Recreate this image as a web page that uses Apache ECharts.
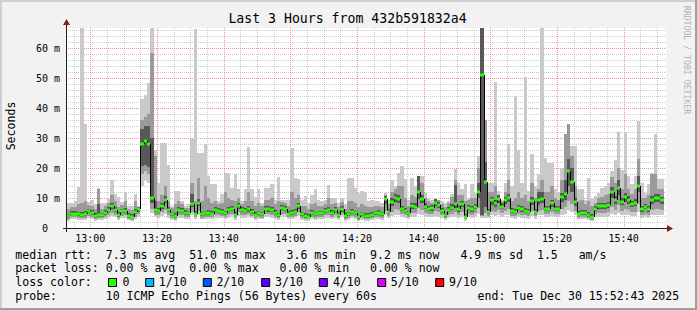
<!DOCTYPE html>
<html><head><meta charset="utf-8">
<script src="https://cdn.jsdelivr.net/npm/echarts@6/dist/echarts.min.js"></script>
<style>html,body{margin:0;padding:0;background:#f2f2f2;}#chart{width:697px;height:310px;}</style>
</head><body><div id="chart"></div>
<script>
// time unit: minutes after 12:00 ; window 12:52:43 -> 15:52:43
const START = 52 + 43/60;
const END = START + 180;
const YMAX = 200/3;           // ~66.7 ms top of plot
const FIRST_MINUTE = 53;      // first one-minute step (12:53)

// median rtt per minute (ms)
const med = [4.0,4.8,4.8,4.6,4.3,4.6,5.6,5.1,4.0,4.3,
4.2,5.0,6.1,7.2,6.1,4.4,5.6,5.7,4.1,3.7,
5.3,6.2,27.9,29.0,28.1,10.0,6.1,5.6,7.3,9.4,
5.9,4.6,4.0,6.0,5.7,5.1,4.9,8.0,4.8,8.4,
4.6,4.9,5.1,4.8,6.0,5.6,5.3,4.9,6.0,6.4,
4.4,7.3,5.9,5.7,6.2,5.4,4.4,4.9,4.6,6.4,
6.2,5.9,5.1,4.2,6.8,6.4,4.8,5.1,5.4,7.3,
4.6,4.0,3.8,5.1,4.6,4.9,4.9,5.7,6.0,5.1,
6.0,4.4,6.2,4.0,4.6,5.3,4.9,3.6,4.6,4.0,
4.0,4.3,4.9,5.1,4.6,9.6,5.3,8.7,10.1,9.8,
6.4,5.7,4.9,7.3,7.1,12.0,9.6,7.1,6.4,6.6,
8.4,7.7,5.7,4.2,5.9,6.8,7.9,6.2,7.9,3.8,
6.8,6.2,7.0,12.0,51.0,15.3,5.4,9.3,8.2,9.8,
7.1,9.3,10.1,5.6,5.3,6.8,6.2,5.7,5.3,9.0,
5.3,9.2,9.6,6.4,6.4,8.2,6.4,6.4,10.4,11.2,
18.9,15.3,8.7,4.8,5.1,5.1,4.3,3.7,6.4,7.3,
7.3,7.3,7.7,12.0,9.3,13.2,8.7,10.3,9.3,7.9,
8.4,14.0,6.2,7.0,6.2,9.3,10.0,10.0,9.2];

// smoke: lowest ping (ms)
const mn = [2.5,3.0,3.0,2.8,2.6,2.8,3.2,3.0,2.4,2.6,
2.6,3.0,3.4,4.0,3.6,2.8,3.2,3.3,2.6,2.3,
3.0,3.6,14.0,16.0,15.0,5.0,3.6,3.3,4.0,4.6,
3.4,2.8,2.5,3.4,3.3,3.0,3.0,4.2,3.0,4.4,
2.9,3.0,3.1,3.0,3.4,3.3,3.2,3.0,3.4,3.6,
2.8,4.0,3.4,3.3,3.6,3.2,2.8,3.0,2.9,3.6,
3.6,3.4,3.1,2.6,3.8,3.6,2.9,3.1,3.2,4.0,
2.8,2.5,2.4,3.1,2.8,3.0,3.0,3.3,3.4,3.1,
3.4,2.7,3.6,2.5,2.8,3.2,3.0,2.3,2.8,2.5,
2.5,2.6,3.0,3.1,2.8,4.2,3.2,4.0,4.4,4.2,
3.6,3.3,3.0,3.8,3.8,4.6,4.2,3.8,3.6,3.6,
4.0,3.8,3.3,2.6,3.4,3.6,3.8,3.4,3.8,2.4,
3.6,3.4,3.6,4.6,3.5,3.5,3.2,4.2,4.0,4.3,
3.8,4.2,4.4,3.2,3.1,3.6,3.4,3.3,3.1,4.0,
3.1,4.2,4.3,3.6,3.6,3.9,3.6,3.6,4.4,4.8,
6.0,5.5,4.4,2.9,3.0,3.0,2.6,2.3,3.6,3.8,
3.8,3.8,3.9,4.6,4.2,5.0,4.2,4.5,4.2,3.9,
4.0,5.2,3.4,3.6,3.4,4.2,4.4,4.4,4.2];

// smoke: second-lowest ping band edge (ms)
const lo = [3.0,3.6,3.6,3.4,3.2,3.4,4.0,3.7,3.0,3.2,
3.2,3.7,4.4,5.0,4.5,3.4,4.0,4.2,3.1,2.8,
3.8,4.6,18.0,19.0,18.0,6.5,4.4,4.2,5.2,6.0,
4.2,3.4,3.0,4.4,4.2,3.8,3.6,5.2,3.6,5.6,
3.5,3.7,3.8,3.6,4.4,4.2,4.0,3.7,4.4,4.6,
3.4,5.2,4.3,4.2,4.6,4.0,3.4,3.7,3.5,4.6,
4.6,4.3,3.8,3.2,4.8,4.6,3.6,3.8,4.0,5.2,
3.5,3.0,2.9,3.8,3.5,3.7,3.7,4.2,4.4,3.8,
4.4,3.3,4.6,3.0,3.5,4.0,3.7,2.8,3.5,3.0,
3.0,3.2,3.7,3.8,3.5,5.8,4.0,5.4,6.2,6.0,
4.6,4.2,3.7,5.0,5.0,6.8,6.0,5.0,4.6,4.7,
5.6,5.2,4.2,3.2,4.3,4.8,5.4,4.5,5.4,2.9,
4.8,4.4,5.0,6.8,4.0,5.0,4.0,5.8,5.4,6.0,
5.0,5.8,6.2,4.1,3.9,4.8,4.4,4.2,3.9,5.6,
3.9,5.7,6.0,4.6,4.6,5.4,4.6,4.6,6.4,7.0,
9.0,8.0,5.6,3.5,3.7,3.7,3.2,2.8,4.6,5.0,
5.0,5.0,5.2,7.0,6.0,7.6,5.6,6.4,6.0,5.2,
5.4,8.0,4.4,4.8,4.4,6.0,6.4,6.4,6.0];

// smoke: dark core lower edge (ms)
const c1 = [3.5,4.2,4.2,4.0,3.7,4.0,5.0,4.5,3.5,3.7,
3.6,4.4,5.4,6.4,5.4,3.8,5.0,5.0,3.5,3.2,
4.6,5.5,20.7,21.0,20.5,8.5,5.4,5.0,6.5,8.4,
5.2,4.0,3.5,5.3,5.0,4.5,4.3,7.0,4.2,7.4,
4.0,4.3,4.5,4.2,5.3,5.0,4.7,4.3,5.3,5.7,
3.9,6.4,5.2,5.0,5.5,4.8,3.9,4.3,4.0,5.7,
5.5,5.2,4.5,3.7,6.0,5.7,4.2,4.5,4.8,6.4,
4.0,3.5,3.3,4.5,4.0,4.3,4.3,5.0,5.3,4.5,
5.3,3.8,5.5,3.5,4.0,4.7,4.3,3.1,4.0,3.5,
3.5,3.8,4.3,4.5,4.0,8.0,4.7,7.4,8.6,8.4,
5.6,5.0,4.3,6.4,6.2,9.8,8.2,6.2,5.6,5.8,
7.2,6.7,5.0,3.7,5.2,6.0,6.8,5.5,6.9,3.3,
6.0,5.5,6.2,10.0,4.5,7.0,4.8,7.8,7.0,8.4,
6.2,7.9,8.6,4.9,4.7,6.0,5.5,5.0,4.7,7.6,
4.7,7.8,8.2,5.6,5.6,7.0,5.6,5.6,8.8,9.4,
14.0,12.0,7.4,4.2,4.5,4.5,3.8,3.2,5.6,6.4,
6.4,6.4,6.8,10.0,8.0,11.0,7.6,8.8,8.0,6.9,
7.3,12.0,5.5,6.2,5.5,8.0,8.6,8.6,8.0];

// smoke: dark core upper edge (ms)
const c2 = [4.8,5.6,5.6,5.4,5.2,5.6,6.5,6.0,4.9,8.0,
5.0,5.9,7.0,8.2,7.0,5.3,6.5,6.7,5.0,4.6,
6.2,7.1,33.0,34.0,34.0,30.0,9.0,6.6,8.4,10.6,
6.9,5.5,4.9,7.0,6.7,6.0,5.8,11.2,5.7,9.6,
5.5,5.8,6.0,5.7,7.0,6.6,6.2,5.8,7.0,7.4,
5.3,8.3,6.9,6.7,7.4,6.3,5.3,5.8,5.5,7.4,
7.2,6.9,6.0,5.1,7.8,7.4,5.7,6.0,6.3,8.4,
5.5,4.9,4.7,6.0,5.5,5.8,5.8,6.7,7.0,6.0,
7.0,5.3,7.2,4.9,5.5,6.3,5.8,4.4,5.5,4.9,
4.9,5.2,5.8,6.0,5.5,10.8,6.2,10.0,11.4,11.0,
7.4,6.7,5.8,8.4,8.2,17.3,11.0,8.2,7.4,7.6,
9.6,8.8,6.7,5.1,6.9,8.0,14.2,7.3,9.0,4.7,
7.8,7.2,8.0,15.0,67,22.0,6.4,10.5,9.4,11.0,
8.2,10.5,11.5,6.6,6.3,7.8,7.2,6.7,6.3,10.3,
6.3,12.0,12.0,7.4,7.4,9.4,7.4,7.4,11.8,16.0,
23.0,20.0,10.0,5.7,6.0,6.0,5.2,4.6,7.4,8.4,
8.4,8.4,8.8,13.6,10.6,16.0,9.9,11.8,10.6,9.0,
9.6,17.3,7.2,8.1,7.2,10.6,11.4,11.4,10.5];

// smoke: second-highest ping band edge (ms)
const hi = [6.4,7.0,7.0,8.0,8.5,9.0,7.8,7.5,6.5,13.0,
6.5,7.2,8.2,11.0,9.0,7.0,7.8,9.0,6.2,6.0,
9.0,7.0,36.0,37.0,38.0,58.4,24.0,9.0,11.0,14.0,
9.0,6.6,8.0,9.0,8.0,6.8,6.8,15.0,9.0,16.8,
9.0,14.0,10.0,8.5,9.0,8.0,8.5,12.0,10.0,9.5,
9.0,10.0,8.0,9.0,12.0,9.0,7.5,8.5,7.2,9.5,
9.5,10.0,8.0,9.0,8.8,8.5,7.5,12.0,10.0,11.0,
7.5,7.5,6.5,8.0,8.5,7.5,7.5,8.0,10.0,8.0,
8.5,7.0,8.8,6.5,9.0,9.0,8.5,7.0,8.0,7.5,
7.0,7.0,7.5,7.5,7.0,11.0,8.0,12.0,13.0,14.0,
14.0,10.0,7.5,11.0,10.5,17.3,15.0,10.0,9.0,8.5,
9.5,9.5,8.0,7.0,8.5,10.5,16.0,11.0,11.0,9.0,
9.5,10.0,10.0,20.0,67,36.0,12.0,12.0,14.0,11.0,
9.0,12.0,16.0,9.0,10.0,12.0,10.0,11.0,9.0,15.0,
10.0,13.0,16.0,12.0,12.0,14.0,10.0,9.5,16.0,31.2,
34.6,24.0,14.0,9.0,9.5,8.0,9.0,7.5,8.5,10.0,
10.5,11.0,11.5,17.0,15.0,20.0,13.0,18.0,13.0,11.5,
13.0,23.0,10.0,10.0,11.0,18.0,18.0,13.0,13.0];

// smoke: highest ping (ms)
const mx = [8.5,8.5,9.0,13.8,67,34.8,8.8,9.3,8.0,13.2,
8.2,8.2,9.6,16.0,11.5,10.2,8.8,12.0,7.5,7.5,
11.2,7.5,43.0,44.5,48.5,67,26,15,28.2,28.2,
20.9,7.5,12.3,12.3,9.0,7.5,8.0,29.6,66.5,25.1,
25,28,17.3,14.6,14.6,9.0,11.2,18.4,18.4,13.4,
17.9,12.9,9.0,12.9,27.1,12.9,10.4,12.9,8.5,13.4,
13.4,14.6,9.5,17.0,9.5,9.5,9.5,26.8,16.8,16.3,
9.5,10.7,8.5,10.9,13.1,9.5,9.0,9.5,14.2,10.0,
10.0,8.4,10.0,8.0,16.8,16.8,13.4,11.8,12.3,12.0,
9.0,9.5,9.0,9.0,8.5,11.8,9.5,16.0,14.0,18.4,
20.7,16.4,9.5,16.8,14.0,17.3,17.3,11.8,10.0,9.5,
10.0,9.5,9.0,8.5,9.0,11.2,19.8,15.0,12.9,14.6,
10.0,14.6,11.8,24.0,67,36,15,15,48.7,12.3,
9.5,15.0,27.9,14.0,44.0,26.0,15.0,50.4,12.3,24.6,
14.0,18.0,67,23.4,21.8,21.8,12.9,12.0,20.0,31.2,
34.6,27.3,27.3,12.9,12.9,9.5,16.8,10.1,10.7,11.8,
13.4,14.0,15.0,19.0,22.7,32.0,19.5,32.0,17.3,14.6,
17.3,35.7,15.0,11.8,14.6,18.4,31.2,16.3,16.3];

// time axis ticks (minutes after 12:00) and labels
const gridMinutes = [55,60,65,70,75,80,85,90,95,100,105,110,115,120,125,130,135,140,145,150,155,160,165,170,175,180,185,190,195,200,205,210,215,220,225,230];
const tickMinutes = [60,80,100,120,140,160,180,200,220];
const tickLabels = ['13:00','13:20','13:40','14:00','14:20','14:40','15:00','15:20','15:40'];

const FONT = 'DejaVu Sans Mono';
const CW = 6.955;   // legend char advance
const LX = 15.3;    // legend left origin

const legendRows = [
  {y:254.5, items:[['median rtt:',0],['7.3 ms avg',13],['51.0 ms max',25],['3.6 ms min',39],['9.2 ms now',51],['4.9 ms sd',64],['1.5',75],['am/s',81]]},
  {y:268, items:[['packet loss:',0],['0.00 % avg',13],['0.00 % max',25],['0.00 % min',38],['0.00 % now',51]]},
  {y:282, items:[['loss color:',0]]},
  {y:295.5, items:[['probe:',0],['10 ICMP Echo Pings (56 Bytes) every 60s',13]]}
];
const lossLabels = ['0','1/10','2/10','3/10','4/10','5/10','9/10'];
const lossColors = ['#26ff00','#00b8ff','#0059ff','#5e00ff','#7e00ff','#dd00ff','#ff0000'];
const lossBoxX = [108.5,145.7,203.3,261.7,319.3,377.7,435.7];
const lossTextX = [122.5,158.8,216.4,275.1,332.9,390.8,449.1];

const graphics = [];
// frame
graphics.push({type:'rect', shape:{x:0,y:0,width:697,height:2}, style:{fill:'#cfcfcf'}, silent:true});
graphics.push({type:'rect', shape:{x:0,y:0,width:2,height:310}, style:{fill:'#cfcfcf'}, silent:true});
graphics.push({type:'rect', shape:{x:0,y:308,width:697,height:2}, style:{fill:'#9e9e9e'}, silent:true});
graphics.push({type:'rect', shape:{x:695,y:0,width:2,height:310}, style:{fill:'#9e9e9e'}, silent:true});
// title
graphics.push({type:'text', x:347.5, y:18.6, style:{text:'Last 3 Hours from 432b591832a4', fontSize:13.2, fontFamily:FONT, fill:'#000', align:'center', verticalAlign:'middle'}});
// y unit
graphics.push({type:'text', x:11, y:126, rotation:Math.PI/2, style:{text:'Seconds', fontSize:11.55, fontFamily:FONT, fill:'#000', align:'center', verticalAlign:'middle'}});
// watermark
graphics.push({type:'text', x:687, y:60, rotation:-Math.PI/2, style:{text:'RRDTOOL / TOBI OETIKER', fontSize:8.2, fontFamily:FONT, fill:'#b4b4b4', align:'center', verticalAlign:'middle'}});
// axes lines + arrows
graphics.push({type:'line', shape:{x1:63, y1:228.5, x2:668, y2:228.5}, style:{stroke:'#1f1f1f', lineWidth:1}, z:50});
graphics.push({type:'line', shape:{x1:66.5, y1:232, x2:66.5, y2:24}, style:{stroke:'#1f1f1f', lineWidth:1}, z:50});
graphics.push({type:'polygon', shape:{points:[[667,225],[673,228.5],[667,232]]}, style:{fill:'#801f1f'}, z:50});
graphics.push({type:'polygon', shape:{points:[[63,25],[66.5,19],[70,25]]}, style:{fill:'#801f1f'}, z:50});
// legend text
legendRows.forEach(r => r.items.forEach(([t,col]) => {
  graphics.push({type:'text', x:LX + col*CW, y:r.y, style:{text:t, fontSize:11.55, fontFamily:FONT, fill:'#000', align:'left', verticalAlign:'middle'}});
}));
lossLabels.forEach((t,i) => {
  graphics.push({type:'rect', shape:{x:lossBoxX[i], y:278.5, width:8, height:8}, style:{fill:lossColors[i], stroke:'#000', lineWidth:1}});
  graphics.push({type:'text', x:lossTextX[i], y:282, style:{text:t, fontSize:11.55, fontFamily:FONT, fill:'#000', align:'left', verticalAlign:'middle'}});
});
graphics.push({type:'text', x:477.6, y:295.5, style:{text:'end: Tue Dec 30 15:52:43 2025', fontSize:11.55, fontFamily:FONT, fill:'#000', align:'left', verticalAlign:'middle'}});

// smoke data rows
const smokeData = med.map((m,i) => [FIRST_MINUTE+i, FIRST_MINUTE+i+1, mn[i], lo[i], c1[i], c2[i], hi[i], mx[i], m, i>0?med[i-1]:m]);

function renderSmoke(params, api){
  const t0 = api.value(0), t1 = api.value(1);
  const cap = v => Math.min(v, YMAX);
  const X0 = Math.round(api.coord([t0,0])[0]);
  const X1 = Math.round(api.coord([t1,0])[0]);
  const Y = v => Math.round(api.coord([t0, cap(v)])[1]);
  const band = (a,b,fill) => ({type:'rect', shape:{x:X0, y:Y(b), width:X1-X0, height:Y(a)-Y(b)}, style:{fill}});
  const ch = [
    band(api.value(2), api.value(7), '#c9c9c9'),
    band(api.value(3), api.value(6), '#9a9a9a'),
    band(api.value(4), api.value(5), '#585858')
  ];
  const ym = Y(api.value(8)), yp = Y(api.value(9));
  if (params.dataIndex > 0 && ym !== yp) {
    ch.push({type:'line', shape:{x1:X0+0.5, y1:yp, x2:X0+0.5, y2:ym}, style:{stroke:'#000', lineWidth:1}});
  }
  ch.push({type:'rect', shape:{x:X0, y:ym-1.5, width:X1-X0, height:3}, style:{fill:'#26ff00'}});
  return {type:'group', children:ch};
}

const option = {
  animation:false,
  backgroundColor:'#f2f2f2',
  grid:{left:66, top:28, width:600, height:200, show:true, backgroundColor:'#ffffff', borderWidth:0},
  xAxis:{type:'value', min:START, max:END, axisLine:{show:false}, axisTick:{show:false}, axisLabel:{show:false}, splitLine:{show:false}},
  yAxis:{type:'value', min:0, max:YMAX, interval:10,
    axisLine:{show:false}, axisTick:{show:false},
    axisLabel:{margin:6, color:'#000', fontSize:10, fontFamily:FONT,
      formatter: v => (v === 0 ? '{z|0}' : (Math.abs(v % 10) < 1e-6 ? v + ' m' : '')),
      rich:{z:{fontSize:10, fontFamily:FONT, color:'#000', padding:[0,12,0,0]}}},
    splitLine:{show:true, showMinLine:false, showMaxLine:false, lineStyle:{color:'rgba(222,79,79,0.6)', width:1, type:[1,1]}},
    minorTick:{show:false, splitNumber:5},
    minorSplitLine:{show:true, lineStyle:{color:'rgba(143,143,143,0.45)', width:1, type:[1,1]}}
  },
  graphic:graphics,
  series:[
    {type:'custom', coordinateSystem:'cartesian2d', silent:true, z:1,
      data: gridMinutes.map(m => [m, 0]),
      renderItem:(p, api) => {
        const m = api.value(0);
        const a = api.coord([m, YMAX]), b = api.coord([m, 0]);
        const x = Math.round(a[0]) + 0.5;
        const major = m % 20 === 0;
        return {type:'line', shape:{x1:x, y1:a[1], x2:x, y2:b[1]},
          style:{stroke: major ? 'rgba(222,79,79,0.6)' : 'rgba(143,143,143,0.45)', lineWidth:1, lineDash:[1,1]}};
      }},
    {type:'custom', coordinateSystem:'cartesian2d', silent:true, z:2,
      data: smokeData, renderItem: renderSmoke},
    {type:'custom', coordinateSystem:'cartesian2d', silent:true, z:3,
      data: tickMinutes.map((m,i) => [m, 0, i]),
      renderItem:(p, api) => {
        const pt = api.coord([api.value(0), 0]);
        return {type:'text', x:pt[0], y:pt[1] + 10, style:{text:tickLabels[api.value(2)], fontSize:10, fontFamily:FONT, fill:'#000', align:'center', verticalAlign:'middle'}};
      }}
  ]
};
const chart = echarts.init(document.getElementById('chart'), null, {renderer:'svg', width:697, height:310});
chart.setOption(option);
</script></body></html>
